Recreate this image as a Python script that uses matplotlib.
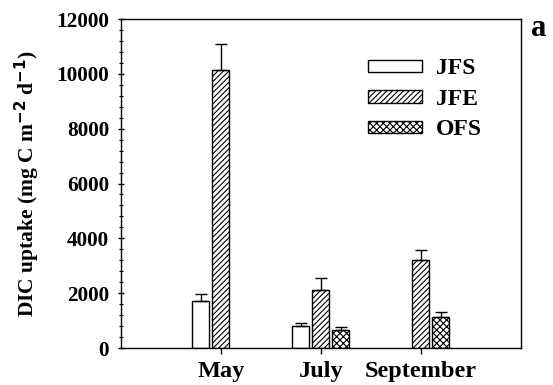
import matplotlib
matplotlib.use("Agg")
import matplotlib.pyplot as plt
import numpy as np
from matplotlib.ticker import MultipleLocator

months = ["May", "July", "September"]
series = ["JFS", "JFE", "OFS"]
jfs = [1700, 800, np.nan]
jfs_err = [270, 100, np.nan]
jfe = [10150, 2110, 3200]
jfe_err = [950, 430, 390]
ofs = [np.nan, 640, 1130]
ofs_err = [np.nan, 120, 195]

plt.rcParams['font.family'] = ['Liberation Serif', 'DejaVu Serif']
plt.rcParams['font.weight'] = 'bold'
plt.rcParams['hatch.linewidth'] = 0.8
plt.rcParams['mathtext.default'] = 'regular'

fig = plt.figure(figsize=(5.53, 3.85), dpi=100)
ax = fig.add_axes([0.2188, 0.0961, 0.7233, 0.8545])

x = np.arange(1, len(months) + 1)
w = 0.17
offs = [-0.2, 0.0, 0.2]
hatches = ["", "//////", "xxxxx"]
vals = [jfs, jfe, ofs]
errs = [jfs_err, jfe_err, ofs_err]
for i, (name, v, e, h) in enumerate(zip(series, vals, errs, hatches)):
    ax.bar(x + offs[i], v, w, facecolor="white", edgecolor="black",
           linewidth=1.0, hatch=h, label=name,
           yerr=[np.zeros(len(e)), e], capsize=4,
           error_kw=dict(ecolor="black", elinewidth=1.0, capthick=1.0))

ax.set_xlim(0, 4)
ax.set_ylim(0, 12000)
ax.set_xticks(x)
ax.set_xticklabels(months, fontsize=17.5, fontweight='bold')
ax.yaxis.set_major_locator(MultipleLocator(2000))
ax.yaxis.set_minor_locator(MultipleLocator(400))
ax.tick_params(axis='y', which='major', labelsize=15.3, length=5, width=1,
               direction='inout', pad=6)
ax.tick_params(axis='y', which='minor', length=3, width=0.8, direction='inout')
ax.tick_params(axis='x', which='major', length=4, width=1, pad=5)
for lab in ax.get_yticklabels():
    lab.set_fontweight('bold')
ax.set_ylabel("DIC uptake (mg C m$^{\\mathbf{-2}}$ d$^{\\mathbf{-1}}$)",
              fontsize=15.5, fontweight='bold', labelpad=11)
for s in ax.spines.values():
    s.set_linewidth(1.0)

leg = ax.legend(loc='upper left', bbox_to_anchor=(0.617, 0.88), frameon=False,
                fontsize=17, handlelength=2.3, handleheight=0.42,
                labelspacing=0.4, handletextpad=0.6, borderpad=0,
                borderaxespad=0)
for t in leg.get_texts():
    t.set_fontweight('bold')

fig.text(0.975, 0.925, "a", fontsize=22, fontweight='bold', ha='center', va='center')

fig.savefig("out.png", dpi=100)
